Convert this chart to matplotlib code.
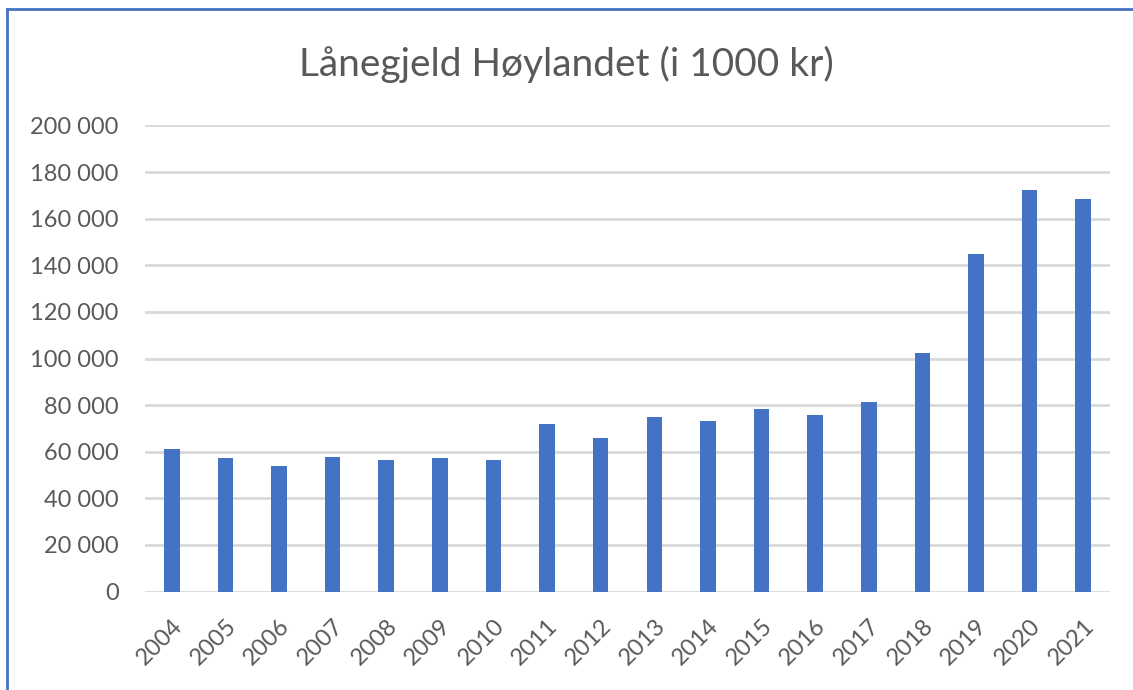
import numpy as np
import matplotlib.pyplot as plt
from matplotlib.lines import Line2D

# dati (i 1000 kr)
years = [str(y) for y in range(2004, 2022)]
values = [61200, 57200, 53900, 57900, 56300, 57200, 56300, 71800, 66000,
          74900, 73300, 78200, 75800, 81300, 102500, 144700, 172300, 168300]
yticks = [0, 20000, 40000, 60000, 80000, 100000, 120000, 140000, 160000, 180000, 200000]

plt.rcParams['font.family'] = ['Lato', 'DejaVu Sans']
grey = '#595959'

fig = plt.figure(figsize=(11.33, 6.9), dpi=100)
ax = fig.add_axes([145 / 1133, 1 - 591.6 / 690, 965 / 1133, 466.2 / 690])

x = np.arange(len(years))
ax.bar(x, values, width=0.29, color='#4472C4', zorder=3)

ax.set_xlim(-0.5, len(years) - 0.5)
ax.set_ylim(0, 200000)
ax.set_yticks(yticks)
ax.set_yticklabels([f"{v:,}".replace(",", " ") for v in yticks])
ax.set_xticks(x)
ax.set_xticklabels(years, rotation=45, ha='right', rotation_mode='anchor')
ax.tick_params(axis='both', length=0, labelsize=17, colors=grey)
ax.tick_params(axis='y', pad=19)
ax.tick_params(axis='x', pad=17)
ax.grid(axis='y', color='#d9d9d9', linewidth=2, zorder=0)
for s in ax.spines.values():
    s.set_visible(False)

fig.text(0.5, 1 - 64 / 690, 'Lånegjeld Høylandet (i 1000 kr)', ha='center', va='center',
         fontsize=28, color=grey)

# bordo blu del riquadro del grafico
fig.add_artist(Line2D([7 / 1133, 7 / 1133], [0, 1 - 9 / 690], color='#4472C4', lw=2,
                      transform=fig.transFigure))
fig.add_artist(Line2D([7 / 1133, 1], [1 - 9 / 690, 1 - 9 / 690], color='#4472C4', lw=2,
                      transform=fig.transFigure))

fig.savefig('out.png', dpi=100)
